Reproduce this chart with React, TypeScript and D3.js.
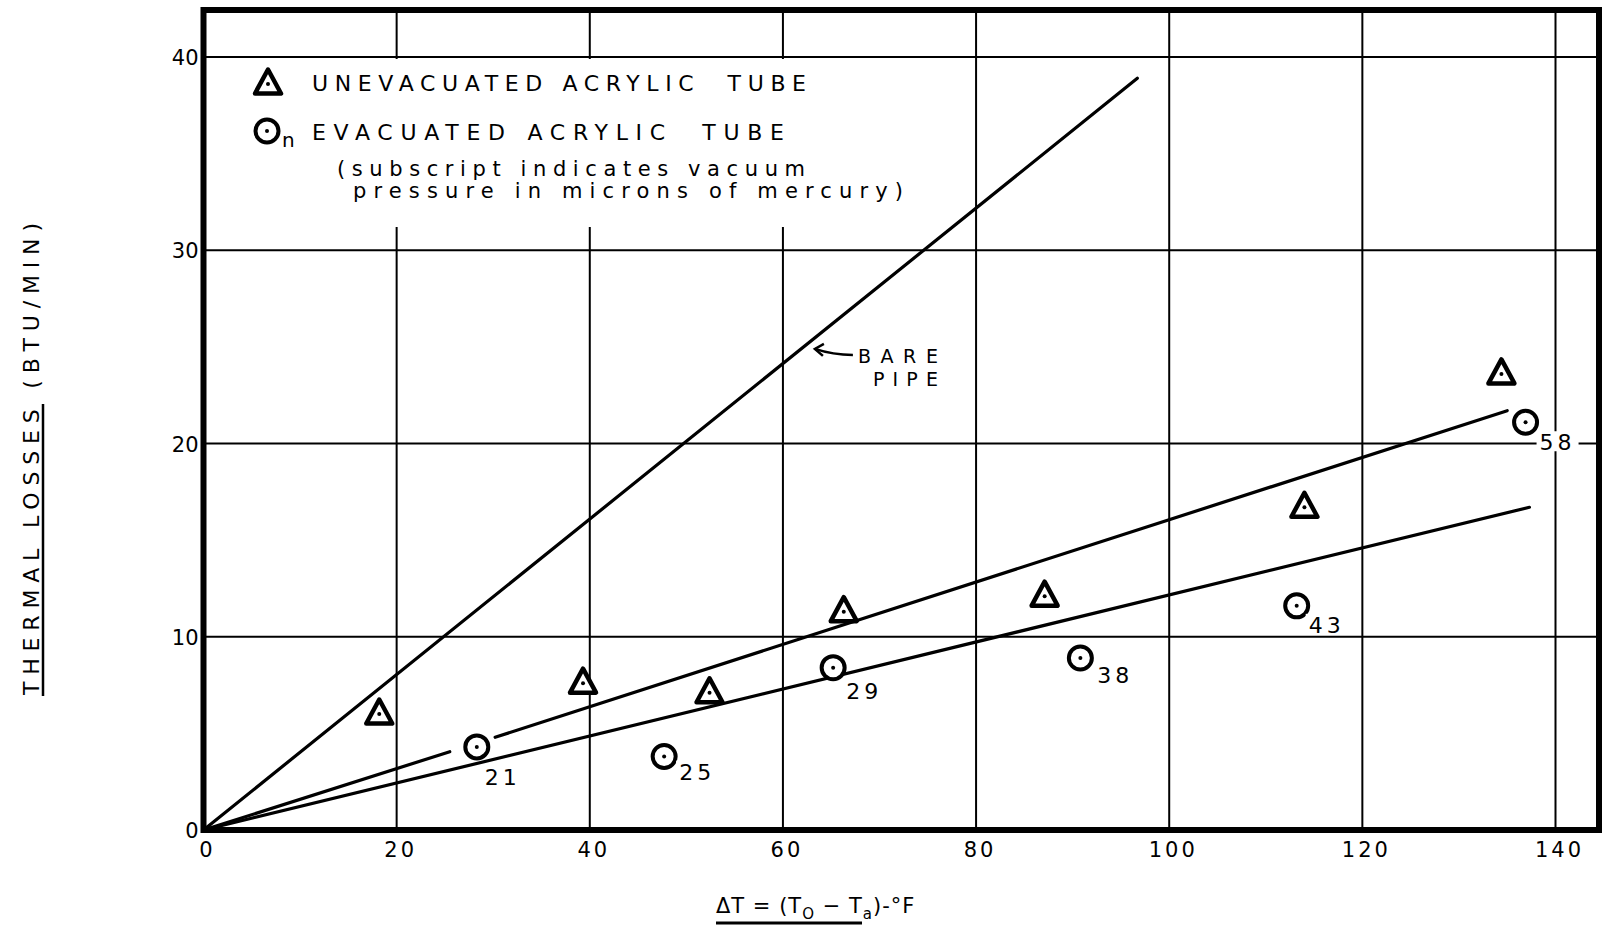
import React, { useEffect, useRef } from 'react';
import * as d3 from 'd3';

// axis ticks
const xTicks = [0, 20, 40, 60, 80, 100, 120, 140];
const yTicks = [0, 10, 20, 30, 40];

// unevacuated acrylic tube (triangles)
const unevacDT = [18.2, 39.3, 52.4, 66.3, 87.1, 114.0, 134.4];
const unevacQ = [6.0, 7.6, 7.1, 11.3, 12.1, 16.7, 23.6];

// evacuated acrylic tube (circles), subscript = vacuum pressure (microns Hg)
const evacDT = [28.3, 47.7, 65.2, 90.8, 113.2, 136.9];
const evacQ = [4.3, 3.8, 8.4, 8.9, 11.6, 21.1];
const evacPressure = ['21', '25', '29', '38', '43', '58'];

// straight lines drawn on the chart (end points)
const barePipe: [number, number][] = [[0, 0], [96.7, 38.9]];
const upperFit: [number, number][][] = [
    [[0, 0], [25.5, 4.05]],
    [[30.2, 4.8], [135.0, 21.7]],
];
const lowerFit: [number, number][] = [[0, 0], [137.3, 16.7]];

// where the BARE PIPE arrow touches the line
const barePipeArrowAt = { dt: 63.0, q: 25.0 };

// pixel offsets of the subscript labels from their circle (start x, baseline)
const subOffsets = [[8, 38], [15, 23], [13, 31], [17, 25], [12, 27], [14, 28]];

const FONT = '"DejaVu Sans", Verdana, sans-serif';

const App = () => {
    const svgRef = useRef<SVGSVGElement>(null);

    useEffect(() => {
        document.body.style.margin = '0';
        document.body.style.overflow = 'hidden';

        const svg = d3.select(svgRef.current);
        svg.selectAll('*').remove();

        const width = 1603;
        const height = 930;
        const frame = { left: 203.5, top: 10, right: 1599, bottom: 830 };

        const xScale = d3.scaleLinear().domain([0, 140]).range([frame.left, 1555.5]);
        const yScale = d3.scaleLinear().domain([0, 40]).range([frame.bottom, 57]);

        svg.append('rect').attr('width', width).attr('height', height).attr('fill', '#fff');

        // grid
        const grid = svg.append('g').attr('stroke', '#000').attr('stroke-width', 2);
        grid.selectAll('.vgrid')
            .data(xTicks.filter(d => d > 0))
            .enter()
            .append('line')
            .attr('x1', d => xScale(d))
            .attr('x2', d => xScale(d))
            .attr('y1', frame.top)
            .attr('y2', frame.bottom);
        grid.selectAll('.hgrid')
            .data(yTicks.filter(d => d > 0))
            .enter()
            .append('line')
            .attr('x1', frame.left)
            .attr('x2', frame.right)
            .attr('y1', d => yScale(d))
            .attr('y2', d => yScale(d));

        // legend background hides the grid behind it
        svg.append('rect')
            .attr('x', frame.left + 3)
            .attr('y', yScale(40) + 2)
            .attr('width', 700)
            .attr('height', 168)
            .attr('fill', '#fff');

        // frame
        svg.append('rect')
            .attr('x', frame.left)
            .attr('y', frame.top)
            .attr('width', frame.right - frame.left)
            .attr('height', frame.bottom - frame.top)
            .attr('fill', 'none')
            .attr('stroke', '#000')
            .attr('stroke-width', 6);

        // tick labels
        svg.selectAll('.xlab')
            .data(xTicks)
            .enter()
            .append('text')
            .attr('x', d => xScale(d) + 4)
            .attr('y', 857)
            .attr('text-anchor', 'middle')
            .attr('font-family', FONT)
            .attr('font-size', 21)
            .attr('letter-spacing', 3)
            .text(d => d);
        svg.selectAll('.ylab')
            .data(yTicks)
            .enter()
            .append('text')
            .attr('x', frame.left - 5)
            .attr('y', d => yScale(d) + 8)
            .attr('text-anchor', 'end')
            .attr('font-family', FONT)
            .attr('font-size', 21)
            .text(d => d);

        // lines
        const line = d3.line<[number, number]>()
            .x(d => xScale(d[0]))
            .y(d => yScale(d[1]));
        [barePipe, ...upperFit, lowerFit].forEach(seg => {
            svg.append('path')
                .datum(seg)
                .attr('fill', 'none')
                .attr('stroke', '#000')
                .attr('stroke-width', 3.2)
                .attr('stroke-linecap', 'round')
                .attr('d', line);
        });

        // triangle marker
        const triPath = 'M0,-14.5 L13,9.5 L-13,9.5 Z';
        const drawTri = (g, x, y) => {
            g.append('path')
                .attr('transform', `translate(${x},${y})`)
                .attr('d', triPath)
                .attr('fill', '#fff')
                .attr('stroke', '#000')
                .attr('stroke-width', 4.5)
                .attr('stroke-linejoin', 'round');
            g.append('circle').attr('cx', x).attr('cy', y).attr('r', 2).attr('fill', '#000');
        };
        const drawCirc = (g, x, y) => {
            g.append('circle')
                .attr('cx', x)
                .attr('cy', y)
                .attr('r', 11.5)
                .attr('fill', '#fff')
                .attr('stroke', '#000')
                .attr('stroke-width', 4);
            g.append('circle').attr('cx', x).attr('cy', y).attr('r', 2).attr('fill', '#000');
        };

        const pts = svg.append('g');
        unevacDT.forEach((dt, i) => drawTri(pts, xScale(dt), yScale(unevacQ[i])));
        evacDT.forEach((dt, i) => {
            const cx = xScale(dt);
            const cy = yScale(evacQ[i]);
            drawCirc(pts, cx, cy);
            const [dx, dy] = subOffsets[i];
            // white patch so the grid breaks around the label, as in the scan
            pts.append('rect')
                .attr('x', cx + dx - 3)
                .attr('y', cy + dy - 19)
                .attr('width', 42)
                .attr('height', 20)
                .attr('fill', '#fff');
            pts.append('text')
                .attr('x', cx + dx)
                .attr('y', cy + dy)
                .attr('font-family', FONT)
                .attr('font-size', 22)
                .attr('letter-spacing', 4)
                .text(evacPressure[i]);
        });

        // legend
        const legend = svg.append('g').attr('font-family', FONT).attr('fill', '#000');
        drawTri(legend, 268, 84);
        legend.append('text')
            .attr('x', 312).attr('y', 91)
            .attr('font-size', 22)
            .attr('textLength', 494)
            .attr('lengthAdjust', 'spacing')
            .style('white-space', 'pre')
            .text('UNEVACUATED ACRYLIC  TUBE');
        drawCirc(legend, 267, 131);
        legend.append('text')
            .attr('x', 282).attr('y', 147)
            .attr('font-size', 20)
            .text('n');
        legend.append('text')
            .attr('x', 312).attr('y', 140)
            .attr('font-size', 22)
            .attr('textLength', 472)
            .attr('lengthAdjust', 'spacing')
            .style('white-space', 'pre')
            .text('EVACUATED ACRYLIC  TUBE');
        legend.append('text')
            .attr('x', 337).attr('y', 176)
            .attr('font-size', 21)
            .attr('textLength', 468)
            .attr('lengthAdjust', 'spacing')
            .text('(subscript indicates vacuum');
        legend.append('text')
            .attr('x', 353).attr('y', 198)
            .attr('font-size', 21)
            .attr('textLength', 550)
            .attr('lengthAdjust', 'spacing')
            .text('pressure in microns of mercury)');

        // BARE PIPE annotation
        const ax = xScale(barePipeArrowAt.dt) + 3;
        const ay = yScale(barePipeArrowAt.q) + 2;
        svg.append('path')
            .attr('d', `M${ax + 38},${ay + 6} Q${ax + 18},${ay + 6} ${ax},${ay}`)
            .attr('fill', 'none')
            .attr('stroke', '#000')
            .attr('stroke-width', 2.5);
        svg.append('path')
            .attr('d', `M${ax + 9},${ay - 5} L${ax},${ay} L${ax + 8},${ay + 7}`)
            .attr('fill', 'none')
            .attr('stroke', '#000')
            .attr('stroke-width', 2.5);
        const bp = svg.append('g').attr('font-family', FONT).attr('font-size', 19);
        bp.append('text').attr('x', ax + 43).attr('y', ay + 14)
            .attr('textLength', 80).attr('lengthAdjust', 'spacing').text('BARE');
        bp.append('text').attr('x', ax + 58).attr('y', ay + 37)
            .attr('textLength', 65).attr('lengthAdjust', 'spacing').text('PIPE');

        // y axis title
        const yTitle = svg.append('g').attr('transform', 'translate(39, 459) rotate(-90)');
        yTitle.append('text')
            .attr('x', 0).attr('y', 0)
            .attr('text-anchor', 'middle')
            .attr('font-family', FONT)
            .attr('font-size', 22)
            .attr('textLength', 472)
            .attr('lengthAdjust', 'spacing')
            .text('THERMAL LOSSES (BTU/MIN)');
        svg.append('line')
            .attr('x1', 43).attr('x2', 43)
            .attr('y1', 404).attr('y2', 696)
            .attr('stroke', '#000').attr('stroke-width', 2.5);

        // x axis title
        const xt = svg.append('text')
            .attr('x', 716).attr('y', 913)
            .attr('font-family', FONT)
            .attr('font-size', 21)
            .attr('letter-spacing', 1);
        xt.append('tspan').text('ΔT = (T');
        xt.append('tspan').attr('dy', 6).attr('font-size', 15).text('O');
        xt.append('tspan').attr('dy', -6).text(' − T');
        xt.append('tspan').attr('dy', 6).attr('font-size', 15).text('a');
        xt.append('tspan').attr('dy', -6).text(')-°F');
        svg.append('line')
            .attr('x1', 716).attr('x2', 862)
            .attr('y1', 923).attr('y2', 923)
            .attr('stroke', '#000').attr('stroke-width', 3);
    }, []);

    return <svg ref={svgRef} width={1603} height={930} style={{ display: 'block' }}></svg>;
};

export default App;
